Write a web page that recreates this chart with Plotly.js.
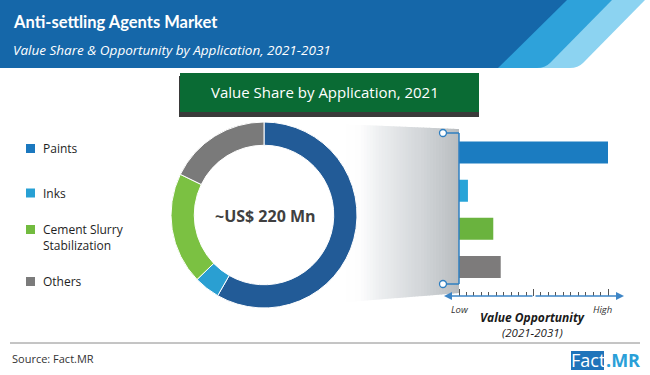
<!DOCTYPE html>
<html>
<head>
<meta charset="utf-8">
<script src="https://cdn.plot.ly/plotly-3.0.1.min.js"></script>
<style>html,body{margin:0;padding:0;background:#fff;}#chart{width:650px;height:375px;}</style>
</head>
<body>
<div id="chart"></div>
<script>
// ---- data ----
var categories = ["Paints", "Inks", "Cement Slurry Stabilization", "Others"];
var legendLabels = ["Paints", "Inks", "Cement Slurry<br>Stabilization", "Others"];
var share2021 = [58.3, 4.5, 19.4, 17.8];
var opportunity = [100, 6, 23, 28];
var oppTicksMajor = [0, 50, 100];
var oppTicksMinor = [0, 5, 10, 15, 20, 25, 30, 35, 40, 45, 50, 55, 60, 65, 70, 75, 80, 85, 90, 95, 100];
var centerLabel = "~US$ 220 Mn";

var donutColors = ["#225b97", "#2a9fd2", "#7bc142", "#7a7a7a"];
var barColors = ["#1b7cc1", "#27a4d8", "#6ab33e", "#7d7b7b"];
var legendColors = ["#1b78bf", "#27a0d4", "#72bb3f", "#7b7b7b"];

var F = "Open Sans, Noto Sans, sans-serif";
var W = 650, H = 375;
var axisY = 296;

var traces = [];
// donut
traces.push({
  type: "pie", labels: categories, values: share2021, hole: 0.75, sort: false,
  direction: "clockwise", rotation: 0, textinfo: "none",
  marker: {colors: donutColors, line: {color: "#ffffff", width: 1}},
  domain: {x: [(264 - 93) / W, (264 + 93) / W], y: [(H - 308) / H, (H - 122) / H]},
  showlegend: false, hoverinfo: "skip"
});
// bars
traces.push({
  type: "bar", orientation: "h", x: opportunity, y: categories,
  xaxis: "x2", yaxis: "y2", width: 0.58,
  marker: {color: barColors}, hoverinfo: "skip", showlegend: false
});
traces.push({type: "scatter", x: [], y: [], xaxis: "x3", yaxis: "y2", showlegend: false});

var shapes = [];
// header banner
shapes.push({type: "path", xref: "x", yref: "y", layer: "below", line: {width: 0},
  fillcolor: "#8cd3f1", path: "M0,0 L645,0 L583,63 Q578,68 570,68 L0,68 Z"});
shapes.push({type: "path", xref: "x", yref: "y", layer: "below", line: {width: 0},
  fillcolor: "#2ea2da", path: "M0,0 L612,0 L550,63 Q545,68 537,68 L0,68 Z"});
shapes.push({type: "path", xref: "x", yref: "y", layer: "below", line: {width: 0},
  fillcolor: "#1567a9", path: "M0,0 L567,0 L498,68 L0,68 Z"});
// green title box with shadow
shapes.push({type: "rect", xref: "x", yref: "y", layer: "below", line: {width: 0},
  fillcolor: "#3a3a3a", x0: 179, x1: 479, y0: 76, y1: 117});
shapes.push({type: "rect", xref: "x", yref: "y", layer: "below", line: {width: 0},
  fillcolor: "#0a6b34", x0: 180, x1: 479, y0: 73, y1: 112});

// gradient funnel built from thin strips (decoration)
var gStops = [[0, [255, 255, 255]], [0.17, [253, 253, 253]], [0.34, [236, 238, 240]], [0.67, [211, 214, 217]], [1, [184, 188, 191]]];
function gColor(f) {
  for (var s = 1; s < gStops.length; s++) {
    if (f <= gStops[s][0]) {
      var a = gStops[s - 1], b = gStops[s], u = (f - a[0]) / (b[0] - a[0]);
      var c = [0, 1, 2].map(function (k) { return Math.round(a[1][k] + (b[1][k] - a[1][k]) * u); });
      return "rgb(" + c.join(",") + ")";
    }
  }
  return "rgb(184,188,191)";
}
function yTop(x) { return 121 + (x - 264) * 8 / 195; }
function yBot(x) { return 309 - (x - 264) * 16 / 195; }
var gx0 = 340, gx1 = 459, nStrips = 40, sw = (gx1 - gx0) / nStrips;
for (var s = 0; s < nStrips; s++) {
  var a0 = gx0 + s * sw, a1 = Math.min(gx1, a0 + sw + 0.6);
  shapes.push({type: "path", xref: "x", yref: "y", layer: "below", line: {width: 0},
    fillcolor: gColor((s + 0.5) / nStrips),
    path: "M" + a0 + "," + yTop(a0) + " L" + a1 + "," + yTop(a1) + " L" + a1 + "," + yBot(a1) + " L" + a0 + "," + yBot(a0) + " Z"});
}

// bracket
shapes.push({type: "line", xref: "x", yref: "y", x0: 459, x1: 459, y0: 133, y1: 284, line: {color: "#2f7fc1", width: 1.5}});
shapes.push({type: "line", xref: "x", yref: "y", x0: 443, x1: 459, y0: 133, y1: 133, line: {color: "#2f7fc1", width: 1.5}});
shapes.push({type: "line", xref: "x", yref: "y", x0: 443, x1: 459, y0: 284, y1: 284, line: {color: "#2f7fc1", width: 1.5}});
shapes.push({type: "circle", xref: "x", yref: "y", x0: 439.5, x1: 446.5, y0: 129.5, y1: 136.5, fillcolor: "#ffffff", line: {color: "#2f7fc1", width: 1.3}});
shapes.push({type: "circle", xref: "x", yref: "y", x0: 439.5, x1: 446.5, y0: 280.5, y1: 287.5, fillcolor: "#ffffff", line: {color: "#2f7fc1", width: 1.3}});
// legend squares
var legY = [148.5, 193, 229.5, 281.5];
for (var i = 0; i < categories.length; i++) {
  shapes.push({type: "rect", xref: "x", yref: "y", x0: 26, x1: 35, y0: legY[i] - 4.5, y1: legY[i] + 4.5,
    fillcolor: legendColors[i], line: {width: 0}});
}
// footer rule
shapes.push({type: "line", xref: "x", yref: "y", x0: 10, x1: 640, y0: 343, y1: 343, line: {color: "#8a8a8a", width: 1}});
// logo box
shapes.push({type: "rect", xref: "x", yref: "y", x0: 571, x1: 604, y0: 351, y1: 370, fillcolor: "#1f74ba", line: {width: 0}});

var ann = [];
function t(x, y, text, size, color, opts, fam) {
  var a = {xref: "x", yref: "y", x: x, y: y, text: text, showarrow: false,
    font: {family: fam || F, size: size, color: color}, xanchor: "left", yanchor: "middle", align: "left"};
  for (var k in (opts || {})) a[k] = opts[k];
  ann.push(a);
}
t(11, 22, "<b>Anti-settling Agents Market</b>", 16.5, "#ffffff", null, "Lato, Open Sans, sans-serif");
t(11, 50, "<i>Value Share & Opportunity by Application, 2021-2031</i>", 13.5, "#ffffff");
t(325, 92, "Value Share by Application, 2021", 15, "#ffffff", {xanchor: "center", align: "center"});
for (var j = 0; j < legendLabels.length; j++) {
  var yy = legY[j] + (j === 2 ? 7.5 : 0);
  t(41, yy, legendLabels[j], 12, "#1e1e1e");
}
t(265, 216, "<b>" + centerLabel + "</b>", 16, "#404040", {xanchor: "center", align: "center"});
t(460, 309, "<i>Low</i>", 9.5, "#333333", {xanchor: "center"});
t(602, 309, "<i>High</i>", 9.5, "#333333", {xanchor: "center"});
t(532, 317, "<b><i>Value Opportunity</i></b>", 12, "#1a1a1a", {xanchor: "center"});
t(532, 332, "<i>(2021-2031)</i>", 11.5, "#1a1a1a", {xanchor: "center"});
t(10, 358, "Source: Fact.MR", 11, "#333333");
t(588, 360, "Fact", 18, "#ffffff", {xanchor: "center"});
t(604, 360, "<b>.MR</b>", 18, "#2a9fd8");
// arrows of opportunity axis
ann.push({xref: "x", yref: "y", axref: "x", ayref: "y", x: 444, y: axisY, ax: 534, ay: axisY, text: "",
  showarrow: true, arrowhead: 2, arrowsize: 1, arrowwidth: 1.6, arrowcolor: "#3d85c6"});
ann.push({xref: "x", yref: "y", axref: "x", ayref: "y", x: 624, y: axisY, ax: 534, ay: axisY, text: "",
  showarrow: true, arrowhead: 2, arrowsize: 1, arrowwidth: 1.6, arrowcolor: "#3d85c6"});

var layout = {
  width: W, height: H, margin: {l: 0, r: 0, t: 0, b: 0},
  paper_bgcolor: "#ffffff", plot_bgcolor: "rgba(0,0,0,0)", showlegend: false,
  xaxis: {range: [0, W], domain: [0, 1], visible: false, fixedrange: true},
  yaxis: {range: [H, 0], domain: [0, 1], visible: false, fixedrange: true},
  xaxis2: {domain: [459 / W, 608 / W], range: [0, 100], anchor: "y2", visible: false},
  yaxis2: {domain: [(H - 286) / H, (H - 133.5) / H], range: [3.5, -0.5], anchor: "x2", type: "category",
    categoryarray: categories, visible: false},
  xaxis3: {domain: [459 / W, 608 / W], range: [0, 100], overlaying: "x2", anchor: "free", position: (H - axisY) / H,
    side: "top", showline: false, showgrid: false, zeroline: false, showticklabels: false,
    ticks: "outside", tickmode: "array", tickvals: oppTicksMajor, ticklen: 7, tickwidth: 1, tickcolor: "#555555",
    minor: {tickmode: "array", tickvals: oppTicksMinor, ticks: "outside", ticklen: 4, tickwidth: 1, tickcolor: "#555555", showgrid: false}},
  shapes: shapes, annotations: ann
};
Plotly.newPlot("chart", traces, layout, {staticPlot: true, displayModeBar: false});
</script>
</body>
</html>
